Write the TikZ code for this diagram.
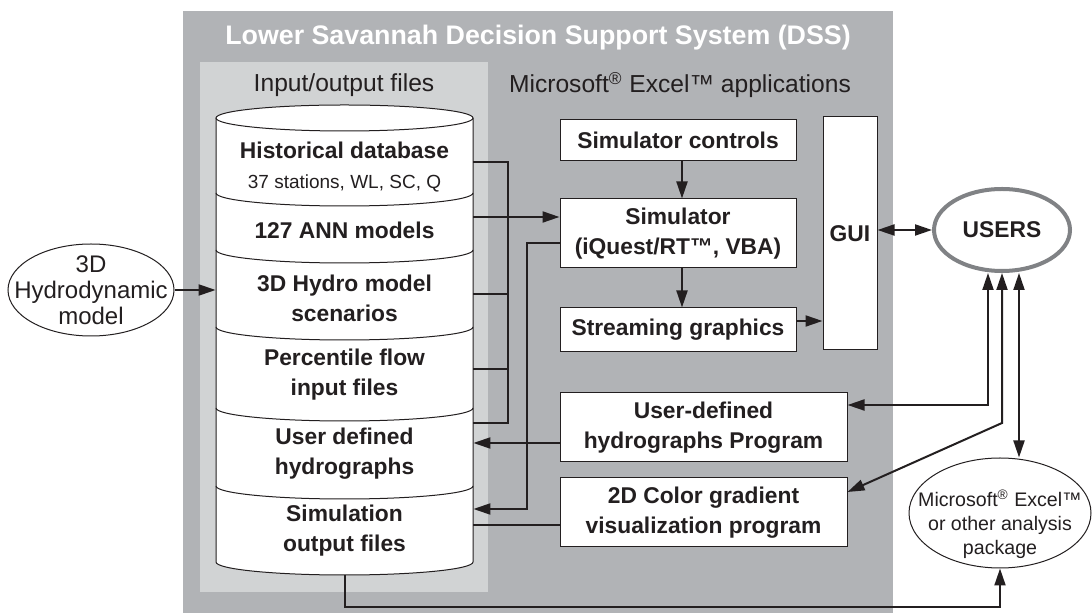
\documentclass[tikz,border=0pt]{standalone}
\usepackage{fontspec}
\setmainfont{Liberation Sans}
\usepackage{color}
\usepackage{tikz}
\usetikzlibrary{shapes.geometric,arrows.meta}

\definecolor{dssgray}{RGB}{177,179,182}
\definecolor{iogray}{RGB}{209,211,212}
\definecolor{usersgray}{RGB}{128,130,133}
\definecolor{inkblack}{RGB}{35,31,32}

\begin{document}
\begin{tikzpicture}[
                    x=0.5pt, y=-0.5pt,
                    every node/.style={inner sep=0pt, text=inkblack},
                    box/.style={
                        draw=inkblack,
                        line width=0.5pt,
                        fill=white,
                        align=center,
                        font=\fontsize{11.4}{15}\selectfont\bfseries
                    },
                    seg/.style={
                        minimum width=128.5pt,
                        align=center,
                        font=\fontsize{11.4}{15}\selectfont\bfseries
                    },
                    oval/.style={ellipse, draw=inkblack, line width=0.5pt, fill=white},
                    conn/.style={draw=inkblack, line width=1pt},
                    arr/.style={conn, -{Triangle[length=8.5pt,width=5.5pt]}},
                    arr2/.style={conn, {Triangle[length=8.5pt,width=5.5pt]}-{Triangle[length=8.5pt,width=5.5pt]}}
                ]

                    \useasboundingbox (0,0) rectangle (1092,613);
                    \fill[white] (0,0) rectangle (1092,613);

                    % Panels
                    \fill[dssgray] (183,11) rectangle (893,613);
                    \fill[iogray] (200,62) rectangle (488,592);

                    \node[font=\fontsize{13.4}{16}\selectfont\bfseries, text=white] (title) at (538,38) {Lower Savannah Decision Support System (DSS)};
                    \node[font=\fontsize{12.3}{14}\selectfont] (iohead) at (344,85) {Input/output files};
                    \node[font=\fontsize{12.3}{14}\selectfont] (xlhead) at (680,85) {Microsoft\textsuperscript{®} Excel™ applications};

                    % Cylinder
                    \draw[draw=inkblack, line width=0.5pt, fill=white] (216,118) -- (216,562)
                        arc[start angle=180, end angle=360, x radius=64.25pt, y radius=6.5pt] -- (473,118);
                    \draw[draw=inkblack, line width=0.5pt, fill=white] (344.5,118) ellipse [x radius=64.25pt, y radius=6.5pt];
                    \foreach \y in {193,250,327,408,486}
                        \draw[draw=inkblack, line width=0.5pt] (216,\y) arc[start angle=180, end angle=360, x radius=64.25pt, y radius=6.5pt];

                    \node[seg] (hist) at (344.5,167) {Historical database\\{\fontsize{9.5}{11}\selectfont\mdseries 37 stations, WL, SC, Q}};
                    \node[seg] (ann) at (344.5,230) {127 ANN models};
                    \node[seg] (hydro3d) at (344.5,298) {3D Hydro model\\scenarios};
                    \node[seg] (pctl) at (344.5,375) {Percentile flow\\input files};
                    \node[seg] (udf) at (344.5,454) {User defined\\hydrographs};
                    \node[seg] (simout) at (344.5,531) {Simulation\\output files};
                    \coordinate (cylbot) at (344.5,575);

                    % Excel applications
                    \node[box, minimum width=118pt, minimum height=20.5pt] (simctl) at (678,140.5) {Simulator controls};
                    \node[box, minimum width=118pt, minimum height=34.5pt] (sim) at (678,233.5) {Simulator\\(iQuest/RT™, VBA)};
                    \node[box, minimum width=118pt, minimum height=22pt] (stream) at (678,330) {Streaming graphics};
                    \node[box, minimum width=27pt, minimum height=116.5pt] (gui) at (850,233.5) {GUI};
                    \node[box, minimum width=143.5pt, minimum height=34.5pt] (udh) at (703.5,427.5) {User-defined\\hydrographs Program};
                    \node[box, minimum width=143.5pt, minimum height=34.5pt] (cgv) at (703.5,512.5) {2D Color gradient\\visualization program};

                    % Outside
                    \node[oval, draw=usersgray, line width=2pt, minimum width=68pt, minimum height=41pt,
                          font=\fontsize{11.4}{15}\selectfont\bfseries] (users) at (1002,230) {USERS};
                    \node[oval, minimum width=83pt, minimum height=46pt] (hydro) at (91,290) {};
                    \node[font=\fontsize{12}{13}\selectfont, align=center] (hydrotxt) at (hydro) {3D\\Hydrodynamic\\model};
                    \node[oval, minimum width=91pt, minimum height=55pt] (excel) at (1000,513) {};
                    \node[font=\fontsize{9.8}{12}\selectfont, align=center] (exceltxt) at ([yshift=-5.5pt]excel.center) {Microsoft\textsuperscript{®} Excel™\\or other analysis\\package};

                    % Edges
                    \coordinate (bus) at (508,423);
                    \coordinate (ret) at (527,509);
                    \draw[arr] (hydro.east) -- (hydro.east -| hydro3d.west);
                    \draw[conn] ([yshift=2.5pt]hist.east) -| (bus) -- (bus -| udf.east);
                    \draw[conn] ([yshift=2pt]hydro3d.east) -| (bus);
                    \draw[conn] ([yshift=3pt]pctl.east) -| (bus);
                    \draw[arr] ([yshift=6.5pt]ann.east) -- ([yshift=8.25pt]sim.west);
                    \draw[arr] ([yshift=-4.75pt]sim.west) -| (ret) -- ([yshift=11pt]simout.east);
                    \draw[arr] ([yshift=-7.75pt]udh.west) -- ([yshift=5.5pt]udf.east);
                    \draw[conn] ([yshift=3pt]simout.east) -- ([yshift=-6.25pt]cgv.west);
                    \draw[arr] ([xshift=2pt]simctl.south) -- ([xshift=2pt]sim.north);
                    \draw[arr] ([xshift=2pt]sim.south) -- ([xshift=2pt]stream.north);
                    \draw[arr] ([yshift=4.5pt]stream.east) -- ([yshift=-43.75pt]gui.west);
                    \draw[arr2] (users.west -| gui.east) -- (users.west);
                    \draw[arr2] ([xshift=-7pt]users.south) |- ([yshift=11.25pt]udh.east);
                    \draw[arr2] (users.south) -- ++(0,150) -- ([yshift=10.25pt]cgv.east);
                    \draw[arr2] ([xshift=8.5pt]users.south) -- ([xshift=9.5pt]excel.north);
                    \draw[arr] (cylbot) -- ++(0,32) -| (excel.south);
                \end{tikzpicture}
\end{document}
